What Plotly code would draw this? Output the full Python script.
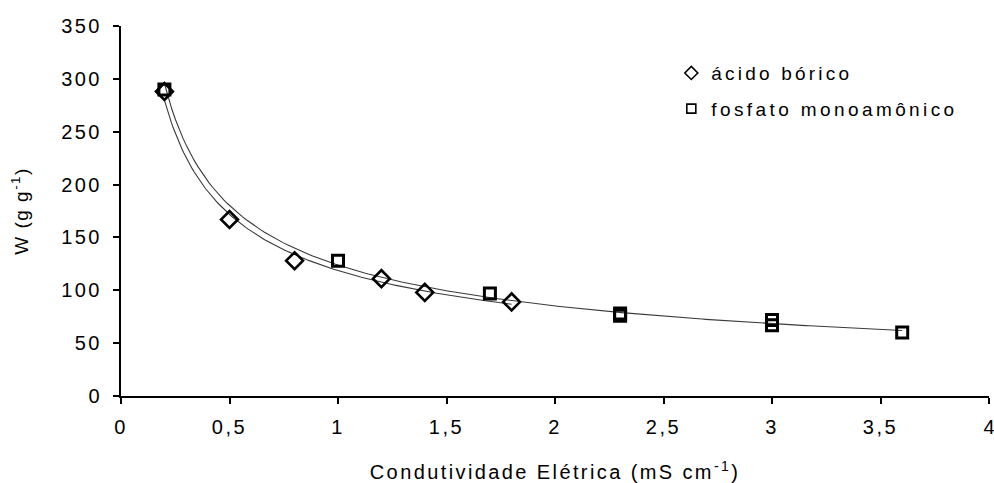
import numpy as np
import plotly.graph_objects as go

# Measured points
acido_x = [0.2, 0.5, 0.8, 1.2, 1.4, 1.8]
acido_w = [288, 167, 128, 111, 98, 89]

fosfato_x = [0.2, 1.0, 1.7, 2.3, 2.3, 3.0, 3.0, 3.6]
fosfato_w = [290, 128, 97, 78, 76, 72, 67, 60]

x_ticks = [0, 0.5, 1, 1.5, 2, 2.5, 3, 3.5, 4]
x_tick_labels = ["0", "0,5", "1", "1,5", "2", "2,5", "3", "3,5", "4"]
y_ticks = [0, 50, 100, 150, 200, 250, 300, 350]
y_tick_labels = ["0", "50", "100", "150", "200", "250", "300", "350"]

FONT = "Liberation Sans, Arial, sans-serif"


def spaced(s, px):
    return f'<span style="letter-spacing:{px}px">{s}</span>'


def power_fit(x, y):
    # least-squares fit of W = a * CE^b on log-log scale
    b, ln_a = np.polyfit(np.log(x), np.log(y), 1)
    xs = np.linspace(min(x), max(x), 200)
    return xs, np.exp(ln_a) * xs ** b


fig = go.Figure()

for xs_data, ys_data in ((acido_x, acido_w), (fosfato_x, fosfato_w)):
    fx, fy = power_fit(xs_data, ys_data)
    fig.add_trace(go.Scatter(
        x=fx, y=fy, mode="lines",
        line=dict(color="#3a3a3a", width=1.1),
        showlegend=False, hoverinfo="skip",
    ))

fig.add_trace(go.Scatter(
    x=fosfato_x, y=fosfato_w, mode="markers",
    marker=dict(symbol="square-open", size=11, color="black",
                line=dict(width=3, color="black")),
    showlegend=False,
))
fig.add_trace(go.Scatter(
    x=acido_x, y=acido_w, mode="markers",
    marker=dict(symbol="diamond-open", size=13, color="black",
                line=dict(width=2.6, color="black")),
    showlegend=False,
))

# legend entries with small outline symbols
fig.add_trace(go.Scatter(
    x=[None], y=[None], mode="markers", name=spaced("ácido bórico", 3.2),
    marker=dict(symbol="diamond-open", size=10, color="black",
                line=dict(width=1.6, color="black")),
    legendgroup="a",
))
fig.add_trace(go.Scatter(
    x=[None], y=[None], mode="markers", name=spaced("fosfato monoamônico", 3.4),
    marker=dict(symbol="square-open", size=9, color="black",
                line=dict(width=1.6, color="black")),
    legendgroup="b",
))

axis_common = dict(
    showline=True, linecolor="black", linewidth=2,
    ticks="outside", ticklen=6, tickwidth=2, tickcolor="black",
    showgrid=False, zeroline=False, automargin=False,
    tickfont=dict(family=FONT, size=20, color="black"),
    ticklabeloverflow="allow",
)

fig.update_layout(
    width=994, height=483,
    margin=dict(l=121, r=5, t=26, b=87, autoexpand=False),
    paper_bgcolor="white", plot_bgcolor="white",
    font=dict(family=FONT, size=20, color="black"),
    xaxis=dict(
        range=[0, 4], tickvals=x_ticks,
        ticktext=[spaced(t, 2.5) for t in x_tick_labels[:-1]] + [x_tick_labels[-1]],
        ticklabelstandoff=6,
        title=dict(text=spaced("Condutividade Elétrica (mS cm<sup>-1</sup>)", 2.4),
                   font=dict(family=FONT, size=20), standoff=29),
        **axis_common,
    ),
    yaxis=dict(
        range=[0, 350], tickvals=y_ticks,
        ticktext=[spaced(t, 2.5) for t in y_tick_labels],
        ticklabelstandoff=7,
        title=dict(text=spaced("W (g g<sup>-1</sup>)", 1.5),
                   font=dict(family=FONT, size=19), standoff=27),
        **axis_common,
    ),
    legend=dict(
        x=0.634, xanchor="left", y=0.924, yanchor="top",
        font=dict(family=FONT, size=19, color="black"),
        bgcolor="rgba(0,0,0,0)", tracegroupgap=8,
        traceorder="grouped",
    ),
)

fig.write_html("out.html")
